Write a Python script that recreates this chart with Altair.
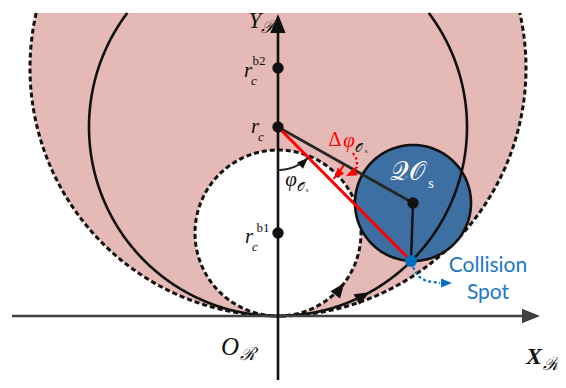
import numpy as np
import pandas as pd
import altair as alt

# ---------------- values ----------------
# coordinates in pixels, origin at O_R, y pointing up
view_x = [-270, 280]
view_y = [-64, 308]
clip_top = 303                      # top edge of the shaded region

# circles: outer dashed (centre r_c^b2), middle solid (centre r_c),
# inner dashed (centre r_c^b1), obstacle QO_s
circle_cx = [0, 0, 0, 135]
circle_cy = [248, 189, 83, 113]
circle_r = [248, 189, 83, 58]

# marked points
dot_x = [0, 0, 0, 135]
dot_y = [248, 189, 83, 113]
spot_x = [133]
spot_y = [55]

# axes
x_axis = [-266, 262]                # start, arrow tip
y_axis = [-64, 302]

# angle arcs (radius, start deg, end deg)
phi_arc = [43, -90, -46]
dphi_arc = [76, -30, -43]

# leader curves
red_leader_x = [75, 79, 79, 74]
red_leader_y = [163, 156, 149, 144]
blue_leader_x = [135, 140, 148, 162]
blue_leader_y = [49, 40, 35, 33]

# arrow heads on the trajectories (angle on circle, deg)
inner_arrow_angle = -37
middle_arrow_angle = -61

pink = "#E5B9B6"
blue_disk = "#3D6FA3"
spot_blue = "#0070C0"
text_blue = "#1C78C8"
ink = "#111111"

# ---------------- helpers ----------------
XS = alt.Scale(domain=view_x, nice=False, zero=False)
YS = alt.Scale(domain=view_y, nice=False, zero=False)


def X(f="x"):
    return alt.X(f"{f}:Q", scale=XS, axis=None)


def Y(f="y"):
    return alt.Y(f"{f}:Q", scale=YS, axis=None)


def band(cx, cy, r, top=None, n=500):
    xs = np.linspace(cx - r, cx + r, n)
    h = np.sqrt(np.clip(r ** 2 - (xs - cx) ** 2, 0, None))
    hi = cy + h
    if top is not None:
        hi = np.minimum(hi, top)
    return pd.DataFrame({"x": xs, "y": cy - h, "y2": hi})


def arc(cx, cy, r, a0, a1, n=400):
    t = np.radians(np.linspace(a0, a1, n))
    return pd.DataFrame({"x": cx + r * np.cos(t), "y": cy + r * np.sin(t), "i": np.arange(n)})


def poly(xs, ys):
    return pd.DataFrame({"x": xs, "y": ys, "i": np.arange(len(xs))})


def area(df, color):
    return alt.Chart(df).mark_area(color=color, opacity=1).encode(x=X(), y=Y(), y2="y2:Q")


def line(df, color=ink, width=2.6, dash=None):
    kw = dict(color=color, strokeWidth=width, strokeCap="butt")
    if dash:
        kw["strokeDash"] = dash
    return alt.Chart(df).mark_line(**kw).encode(x=X(), y=Y(), order="i:Q")


HEAD = "M1,0L-1,-0.8L-1,0.8Z"


def heads(rows):
    recs = []
    for tx, ty, d, side, col in rows:
        a = np.radians(d)
        recs.append({"x": tx - side / 2 * np.cos(a), "y": ty - side / 2 * np.sin(a),
                     "ang": (-d) % 360, "s": side ** 2, "col": col})
    df = pd.DataFrame(recs)
    return alt.Chart(df).mark_point(shape=HEAD, filled=True, opacity=1, strokeWidth=0).encode(
        x=X(), y=Y(), angle=alt.Angle("ang:Q", scale=None), size=alt.Size("s:Q", scale=None),
        color=alt.Color("col:N", scale=None))


SERIF = "Liberation Serif, DejaVu Serif, serif"


def text(xs, ys, ts, size, font=SERIF, style="normal", weight="normal", color=ink):
    df = pd.DataFrame({"x": xs, "y": ys, "t": ts})
    return alt.Chart(df).mark_text(font=font, fontSize=size, fontStyle=style, fontWeight=weight,
                                   color=color, align="center", baseline="middle").encode(
        x=X(), y=Y(), text="t:N")


def tip_on_circle(k, ang_deg):
    a = np.radians(ang_deg)
    return circle_cx[k] + circle_r[k] * np.cos(a), circle_cy[k] + circle_r[k] * np.sin(a)


# ---------------- layers ----------------
layers = []
# shaded region and white inner disc
layers.append(area(band(circle_cx[0], circle_cy[0], circle_r[0], clip_top), pink))
layers.append(area(band(circle_cx[2], circle_cy[2], circle_r[2]), "white"))

# outer dashed circle, clipped at the top
a_out = np.degrees(np.arcsin((clip_top - circle_cy[0]) / circle_r[0]))
layers.append(line(arc(circle_cx[0], circle_cy[0], circle_r[0], 180 - a_out, 360 + a_out, 900),
                   width=3, dash=[5, 3]))
# inner dashed circle
layers.append(line(arc(circle_cx[2], circle_cy[2], circle_r[2], -90, 270, 500), width=3, dash=[5, 3]))

# obstacle disc
layers.append(area(band(circle_cx[3], circle_cy[3], circle_r[3]), blue_disk))
layers.append(line(arc(circle_cx[3], circle_cy[3], circle_r[3], 0, 360, 400), width=2.6))

# middle solid circle, clipped at the top
a_mid = np.degrees(np.arcsin((clip_top - circle_cy[1]) / circle_r[1]))
layers.append(line(arc(circle_cx[1], circle_cy[1], circle_r[1], 180 - a_mid, 360 + a_mid, 900), width=2.6))

# axes
layers.append(line(poly([x_axis[0], x_axis[1] - 14], [0, 0]), color="#404040", width=2.6))
layers.append(line(poly([0, 0], [y_axis[0], y_axis[1] - 14]), color=ink, width=2.6))

# lines from r_c
layers.append(line(poly([dot_x[1], dot_x[3]], [dot_y[1], dot_y[3]]), color="#262626", width=2.6))
layers.append(line(poly([dot_x[3], spot_x[0]], [dot_y[3], spot_y[0]]), color=ink, width=2.4))
layers.append(line(poly([dot_x[1], spot_x[0]], [dot_y[1], spot_y[0]]), color="#FF0000", width=3))

# angle arcs
layers.append(line(arc(0, circle_cy[1], phi_arc[0], phi_arc[1], phi_arc[2], 80), color="#262626", width=2))
layers.append(line(arc(0, circle_cy[1], dphi_arc[0], dphi_arc[1], dphi_arc[2], 40), color="#FF0000", width=2))

# leaders
layers.append(line(poly(red_leader_x, red_leader_y), color="#FF0000", width=2.2, dash=[2.5, 2.5]))
layers.append(line(poly(blue_leader_x, blue_leader_y), color=spot_blue, width=2.2, dash=[3, 2.5]))

# arrow heads
ix, iy = tip_on_circle(2, inner_arrow_angle)
mx, my = tip_on_circle(1, middle_arrow_angle)
pa = np.radians(phi_arc[2])
da = np.radians(dphi_arc[2])
layers.append(heads([
    (x_axis[1], 0, 0, 18, "#404040"),
    (0, y_axis[1], 90, 19, ink),
    (ix, iy, inner_arrow_angle + 90, 15, ink),
    (mx, my, middle_arrow_angle + 90, 15, ink),
    (phi_arc[0] * np.cos(pa), circle_cy[1] + phi_arc[0] * np.sin(pa), phi_arc[2] + 90, 11, ink),
    (dphi_arc[0] * np.cos(da), circle_cy[1] + dphi_arc[0] * np.sin(da), dphi_arc[2] - 90, 11, "#FF0000"),
    (68, 140, 205, 11, "#FF0000"),
    (174, 33, 0, 11, spot_blue),
]))

# dots
dots = pd.DataFrame({"x": dot_x, "y": dot_y})
layers.append(alt.Chart(dots).mark_circle(size=130, color=ink, opacity=1).encode(x=X(), y=Y()))
spot = pd.DataFrame({"x": spot_x, "y": spot_y})
layers.append(alt.Chart(spot).mark_circle(size=140, color=spot_blue, opacity=1).encode(x=X(), y=Y()))

# labels
layers.append(text([-23], [295], ["Y"], 23, style="italic"))
layers.append(text([-48], [-31], ["O"], 25, style="italic"))
layers.append(text([256], [-41], ["X"], 24, style="italic", weight="bold"))
layers.append(text([-9, -30, 273], [288, -39, -49], ["ℛ", "ℛ", "ℛ"], 18, style="italic"))
layers.append(text([-30, -23, -29], [245, 189, 79], ["r", "r", "r"], 21, style="italic"))
layers.append(text([-24, -17, -23], [235, 179, 69], ["c", "c", "c"], 13, style="italic"))
layers.append(text([-19, -15], [255, 88], ["b2", "b1"], 13))
layers.append(text([13], [136], ["φ"], 21, style="italic"))
layers.append(text([57], [176], ["Δ"], 20, color="#FF0000"))
layers.append(text([71], [175], ["φ"], 21, style="italic", color="#FF0000"))
layers.append(text([23, 81], [129, 168], ["𝒪", "𝒪"], 12))
layers.append(text([29, 88], [126, 165], ["s", "s"], 7))
layers.append(text([129], [144], ["𝒬𝒪"], 26, color="white"))
layers.append(text([153], [132], ["s"], 14, color="white"))
layers.append(text([210, 210], [50, 23], ["Collision", "Spot"], 21, font="Lato, Carlito, sans-serif",
                   color=text_blue))

chart = alt.layer(*layers).properties(
    width=view_x[1] - view_x[0], height=view_y[1] - view_y[0],
    autosize=alt.AutoSizeParams(type="none"), padding=0,
).configure_view(stroke=None)

chart.save("out.html", embed_options={"renderer": "svg", "actions": False})
